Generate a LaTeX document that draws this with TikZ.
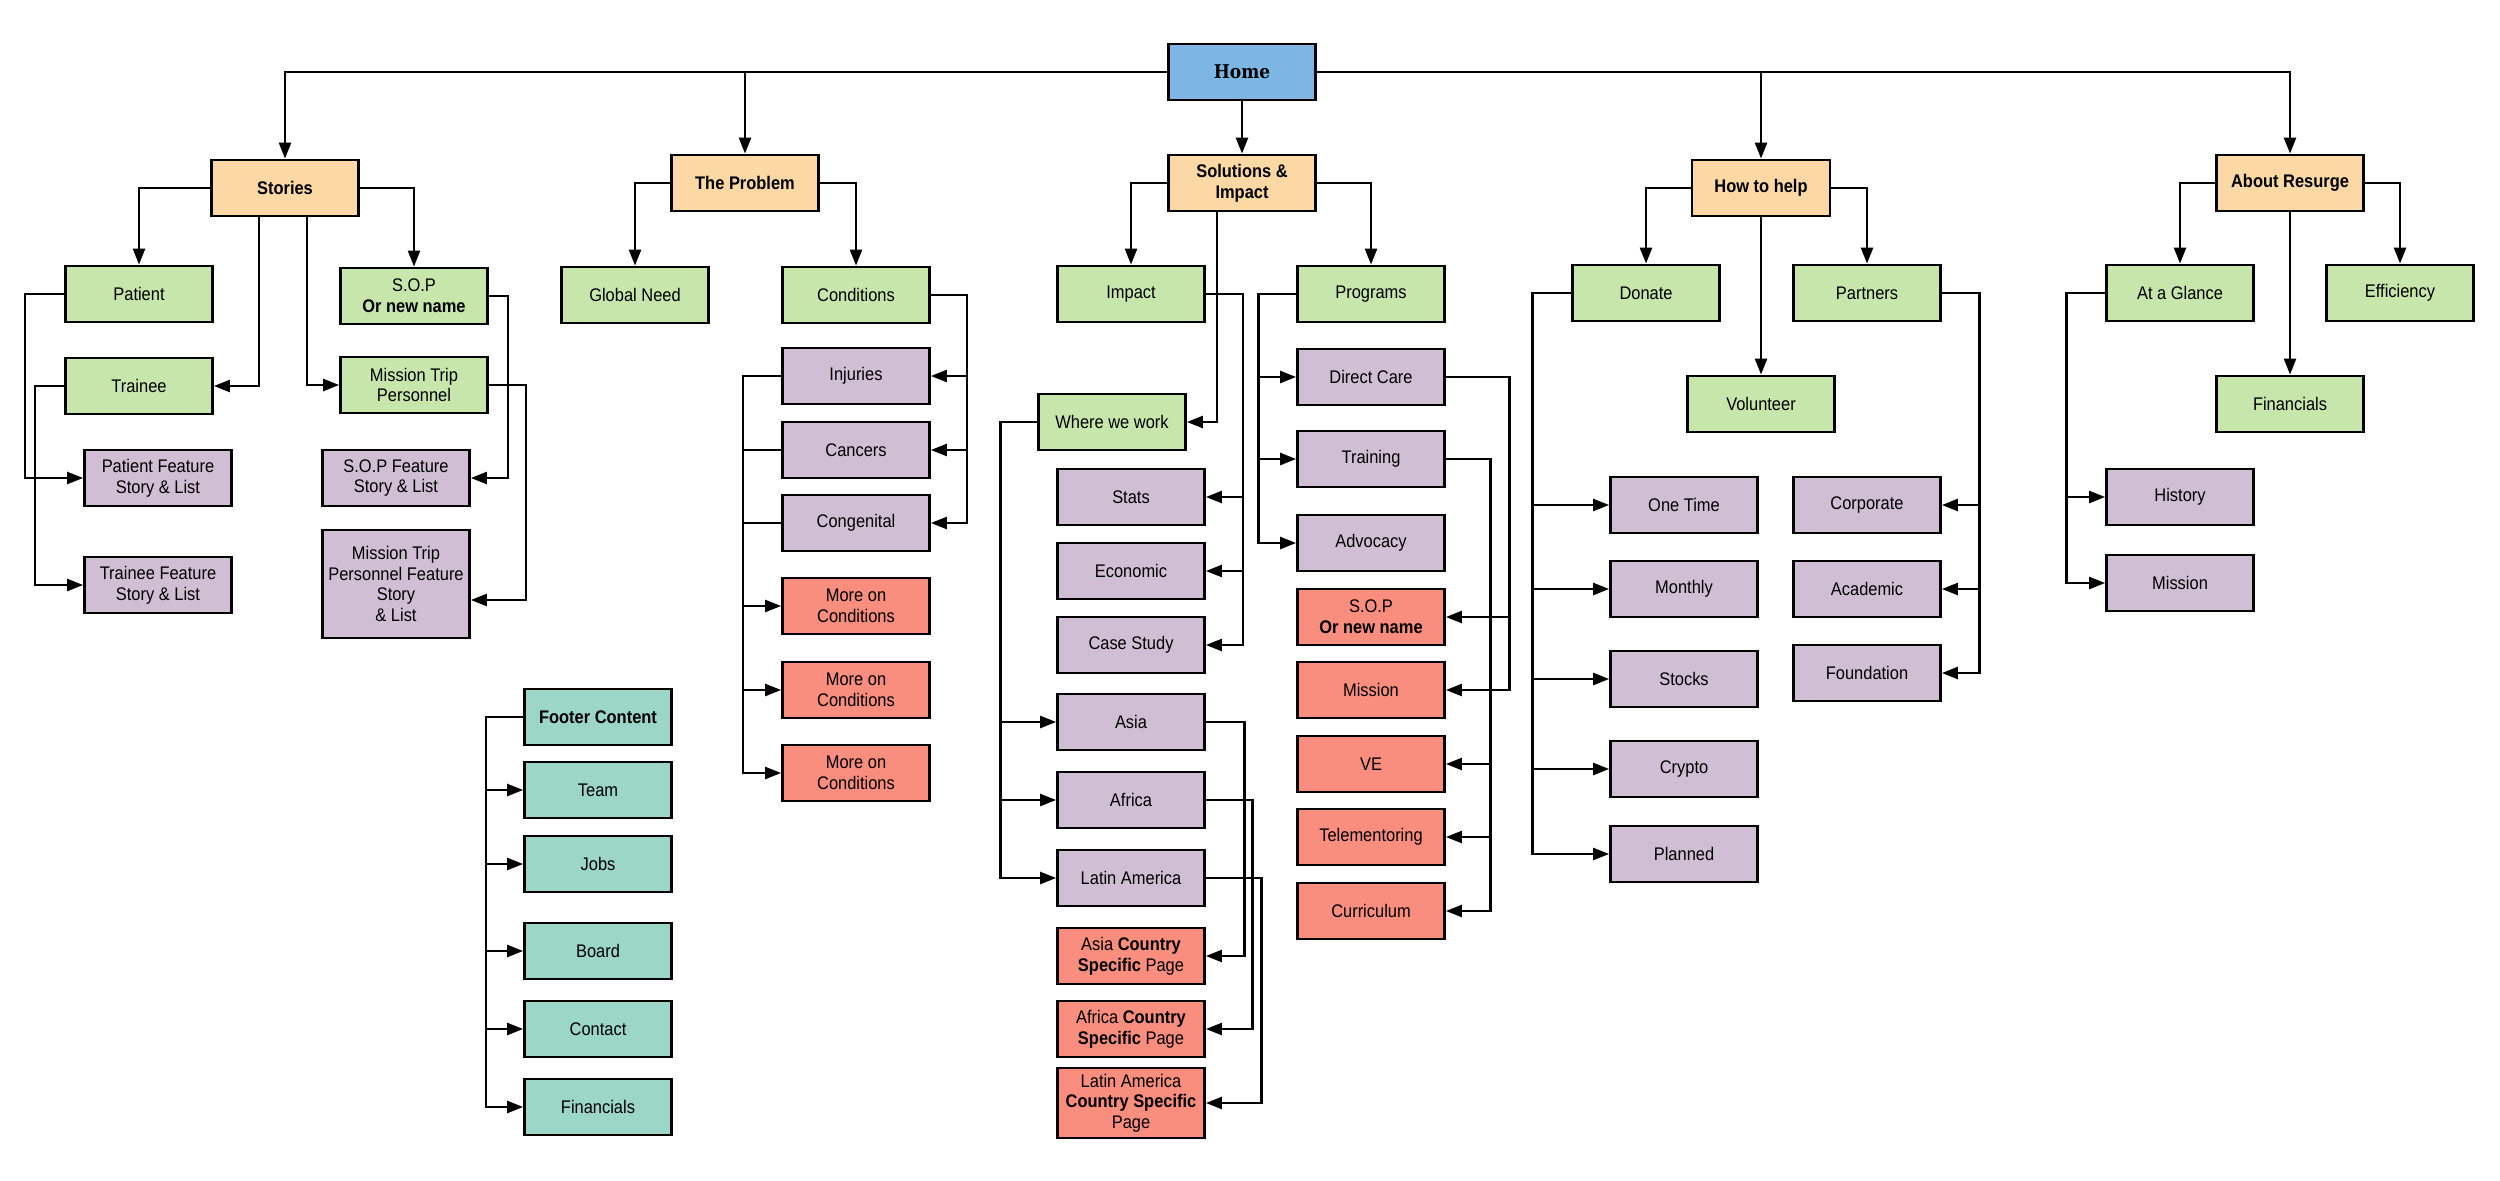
\documentclass[tikz,border=0pt]{standalone}
\usepackage{fontspec}
\setmainfont{Liberation Sans}[FakeStretch=0.9]
\newfontfamily\homefont{DejaVu Serif}[FakeStretch=0.9]
\usetikzlibrary{arrows.meta}
\definecolor{homeblue}{RGB}{125,182,228}
\definecolor{peach}{RGB}{252,216,164}
\definecolor{leafgreen}{RGB}{199,230,171}
\definecolor{lilac}{RGB}{208,190,212}
\definecolor{salmon}{RGB}{249,142,126}
\definecolor{footteal}{RGB}{155,214,199}

\begin{document}
\begin{tikzpicture}[
  box/.style={draw, line width=0.8pt, minimum width=1.47cm, minimum height=0.56cm,
    inner sep=0.5pt, align=center, font=\fontsize{5.2}{5.9}\selectfont},
  homebox/.style={box, fill=homeblue, font=\fontsize{5.4}{6}\selectfont\homefont\bfseries},
  mainbox/.style={box, fill=peach, font=\fontsize{5.2}{5.9}\selectfont\bfseries},
  pagebox/.style={box, fill=leafgreen},
  subbox/.style={box, fill=lilac},
  extrabox/.style={box, fill=salmon},
  footbox/.style={box, fill=footteal},
  arr/.style={-{Triangle[length=1.6mm,width=1.2mm]}, line width=0.7pt},
  link/.style={line width=0.7pt}
]
  \useasboundingbox (0,0) rectangle (25,-11.81);

  % Home
  \node[homebox] (home) at (12.42,-0.72) {Home};

  % Sections
  \node[mainbox] (stories) at (2.85,-1.88) {Stories};
  \node[mainbox] (problem) at (7.45,-1.83) {The Problem};
  \node[mainbox] (solutions) at (12.42,-1.83) {Solutions \&\\Impact};
  \node[mainbox, minimum width=1.38cm] (help) at (17.61,-1.88) {How to help};
  \node[mainbox] (about) at (22.90,-1.83) {About Resurge};

  % Stories
  \node[pagebox] (patient) at (1.39,-2.94) {Patient};
  \node[pagebox] (sop) at (4.14,-2.96) {S.O.P\\\textbf{Or new name}};
  \node[pagebox] (trainee) at (1.39,-3.86) {Trainee};
  \node[pagebox] (mission) at (4.14,-3.85) {Mission Trip\\Personnel};
  \node[subbox] (patfeat) at (1.58,-4.78) {Patient Feature\\Story \& List};
  \node[subbox] (sopfeat) at (3.96,-4.78) {S.O.P Feature\\Story \& List};
  \node[subbox] (trafeat) at (1.58,-5.85) {Trainee Feature\\Story \& List};
  \node[subbox, minimum height=1.08cm] (misfeat) at (3.96,-5.84) {Mission Trip\\Personnel Feature\\Story\\\& List};

  % The Problem
  \node[pagebox] (globalneed) at (6.35,-2.95) {Global Need};
  \node[pagebox] (conditions) at (8.56,-2.95) {Conditions};
  \node[subbox] (injuries) at (8.56,-3.76) {Injuries};
  \node[subbox] (cancers) at (8.56,-4.50) {Cancers};
  \node[subbox] (congenital) at (8.56,-5.23) {Congenital};
  \node[extrabox] (more1) at (8.56,-6.06) {More on\\Conditions};
  \node[extrabox] (more2) at (8.56,-6.90) {More on\\Conditions};
  \node[extrabox] (more3) at (8.56,-7.73) {More on\\Conditions};

  % Footer
  \node[footbox, font=\fontsize{5.2}{5.9}\selectfont\bfseries] (footer) at (5.98,-7.17) {Footer Content};
  \node[footbox] (team) at (5.98,-7.90) {Team};
  \node[footbox] (jobs) at (5.98,-8.64) {Jobs};
  \node[footbox] (board) at (5.98,-9.51) {Board};
  \node[footbox] (contact) at (5.98,-10.29) {Contact};
  \node[footbox] (footfin) at (5.98,-11.07) {Financials};

  % Solutions & Impact
  \node[pagebox] (impact) at (11.31,-2.94) {Impact};
  \node[pagebox] (programs) at (13.71,-2.94) {Programs};
  \node[pagebox] (wherework) at (11.12,-4.22) {Where we work};
  \node[subbox] (stats) at (11.31,-4.97) {Stats};
  \node[subbox] (economic) at (11.31,-5.71) {Economic};
  \node[subbox] (casestudy) at (11.31,-6.45) {Case Study};
  \node[subbox] (asia) at (11.31,-7.22) {Asia};
  \node[subbox] (africa) at (11.31,-8.00) {Africa};
  \node[subbox] (latam) at (11.31,-8.78) {Latin America};
  \node[extrabox] (asiapage) at (11.31,-9.56) {Asia \textbf{Country}\\\textbf{Specific} Page};
  \node[extrabox] (africapage) at (11.31,-10.29) {Africa \textbf{Country}\\\textbf{Specific} Page};
  \node[extrabox, minimum height=0.70cm] (latampage) at (11.31,-11.03) {Latin America\\\textbf{Country Specific}\\Page};
  \node[subbox] (directcare) at (13.71,-3.77) {Direct Care};
  \node[subbox] (training) at (13.71,-4.59) {Training};
  \node[subbox] (advocacy) at (13.71,-5.43) {Advocacy};
  \node[extrabox] (sopred) at (13.71,-6.17) {S.O.P\\\textbf{Or new name}};
  \node[extrabox] (missionred) at (13.71,-6.90) {Mission};
  \node[extrabox] (ve) at (13.71,-7.64) {VE};
  \node[extrabox] (telement) at (13.71,-8.37) {Telementoring};
  \node[extrabox] (curriculum) at (13.71,-9.11) {Curriculum};

  % How to help
  \node[pagebox] (donate) at (16.46,-2.93) {Donate};
  \node[pagebox] (partners) at (18.67,-2.93) {Partners};
  \node[pagebox] (volunteer) at (17.61,-4.04) {Volunteer};
  \node[subbox] (onetime) at (16.84,-5.05) {One Time};
  \node[subbox] (monthly) at (16.84,-5.89) {Monthly};
  \node[subbox] (stocks) at (16.84,-6.79) {Stocks};
  \node[subbox] (crypto) at (16.84,-7.69) {Crypto};
  \node[subbox] (planned) at (16.84,-8.54) {Planned};
  \node[subbox] (corporate) at (18.67,-5.05) {Corporate};
  \node[subbox] (academic) at (18.67,-5.89) {Academic};
  \node[subbox] (foundation) at (18.67,-6.73) {Foundation};

  % About Resurge
  \node[pagebox] (glance) at (21.80,-2.93) {At a Glance};
  \node[pagebox] (efficiency) at (24.00,-2.93) {Efficiency};
  \node[pagebox] (financials) at (22.90,-4.04) {Financials};
  \node[subbox] (history) at (21.80,-4.97) {History};
  \node[subbox] (missionab) at (21.80,-5.83) {Mission};

  % Home links
  \draw[arr] (home.west) -| (stories.north);
  \draw[arr] (home.west) -| (problem.north);
  \draw[arr] (home.south) -- (solutions.north);
  \draw[arr] (home.east) -| (help.north);
  \draw[arr] (home.east) -| (about.north);

  % Stories links
  \draw[arr] (stories.west) -| (patient.north);
  \draw[arr] (stories.east) -| (sop.north);
  \draw[arr] ([xshift=-0.26cm]stories.south) |- (trainee.east);
  \draw[arr] ([xshift=0.22cm]stories.south) |- (mission.west);
  \draw[arr] (patient.west) -- ++(-0.39,0) |- (patfeat.west);
  \draw[arr] (trainee.west) -- ++(-0.29,0) |- (trafeat.west);
  \draw[arr] (sop.east) -- ++(0.19,0) |- (sopfeat.east);
  \draw[arr] (mission.east) -- ++(0.37,0) |- ([yshift=-0.16cm]misfeat.east);

  % Problem links
  \draw[arr] (problem.west) -| (globalneed.north);
  \draw[arr] (problem.east) -| (conditions.north);
  \draw[arr] (conditions.east) -- ++(0.36,0) |- (injuries.east);
  \draw[arr] (conditions.east) -- ++(0.36,0) |- (cancers.east);
  \draw[arr] (conditions.east) -- ++(0.36,0) |- (congenital.east);
  \draw[arr] (injuries.west) -- ++(-0.38,0) |- (more1.west);
  \draw[arr] (injuries.west) -- ++(-0.38,0) |- (more2.west);
  \draw[arr] (injuries.west) -- ++(-0.38,0) |- (more3.west);
  \draw[link] (cancers.west) -- ++(-0.38,0);
  \draw[link] (congenital.west) -- ++(-0.38,0);

  % Footer links
  \draw[arr] (footer.west) -- ++(-0.37,0) |- (team.west);
  \draw[arr] (footer.west) -- ++(-0.37,0) |- (jobs.west);
  \draw[arr] (footer.west) -- ++(-0.37,0) |- (board.west);
  \draw[arr] (footer.west) -- ++(-0.37,0) |- (contact.west);
  \draw[arr] (footer.west) -- ++(-0.37,0) |- (footfin.west);

  % Solutions links
  \draw[arr] (solutions.west) -| (impact.north);
  \draw[arr] (solutions.east) -| (programs.north);
  \draw[arr] ([xshift=-0.25cm]solutions.south) |- (wherework.east);
  \draw[arr] (impact.east) -- ++(0.37,0) |- (stats.east);
  \draw[arr] (impact.east) -- ++(0.37,0) |- (economic.east);
  \draw[arr] (impact.east) -- ++(0.37,0) |- (casestudy.east);
  \draw[arr] (wherework.west) -- ++(-0.365,0) |- (asia.west);
  \draw[arr] (wherework.west) -- ++(-0.365,0) |- (africa.west);
  \draw[arr] (wherework.west) -- ++(-0.365,0) |- (latam.west);
  \draw[arr] (asia.east) -- ++(0.385,0) |- (asiapage.east);
  \draw[arr] (africa.east) -- ++(0.465,0) |- (africapage.east);
  \draw[arr] (latam.east) -- ++(0.555,0) |- (latampage.east);
  \draw[arr] (programs.west) -- ++(-0.375,0) |- (directcare.west);
  \draw[arr] (programs.west) -- ++(-0.375,0) |- (training.west);
  \draw[arr] (programs.west) -- ++(-0.375,0) |- (advocacy.west);
  \draw[arr] (directcare.east) -- ++(0.635,0) |- (sopred.east);
  \draw[arr] (directcare.east) -- ++(0.635,0) |- (missionred.east);
  \draw[arr] (training.east) -- ++(0.445,0) |- (ve.east);
  \draw[arr] (training.east) -- ++(0.445,0) |- (telement.east);
  \draw[arr] (training.east) -- ++(0.445,0) |- (curriculum.east);

  % How to help links
  \draw[arr] (help.west) -| (donate.north);
  \draw[arr] (help.east) -| (partners.north);
  \draw[arr] (help.south) -- (volunteer.north);
  \draw[arr] (donate.west) -- ++(-0.385,0) |- (onetime.west);
  \draw[arr] (donate.west) -- ++(-0.385,0) |- (monthly.west);
  \draw[arr] (donate.west) -- ++(-0.385,0) |- (stocks.west);
  \draw[arr] (donate.west) -- ++(-0.385,0) |- (crypto.west);
  \draw[arr] (donate.west) -- ++(-0.385,0) |- (planned.west);
  \draw[arr] (partners.east) -- ++(0.375,0) |- (corporate.east);
  \draw[arr] (partners.east) -- ++(0.375,0) |- (academic.east);
  \draw[arr] (partners.east) -- ++(0.375,0) |- (foundation.east);

  % About links
  \draw[arr] (about.west) -| (glance.north);
  \draw[arr] (about.east) -| (efficiency.north);
  \draw[arr] (about.south) -- (financials.north);
  \draw[arr] (glance.west) -- ++(-0.385,0) |- (history.west);
  \draw[arr] (glance.west) -- ++(-0.385,0) |- (missionab.west);
\end{tikzpicture}
\end{document}
